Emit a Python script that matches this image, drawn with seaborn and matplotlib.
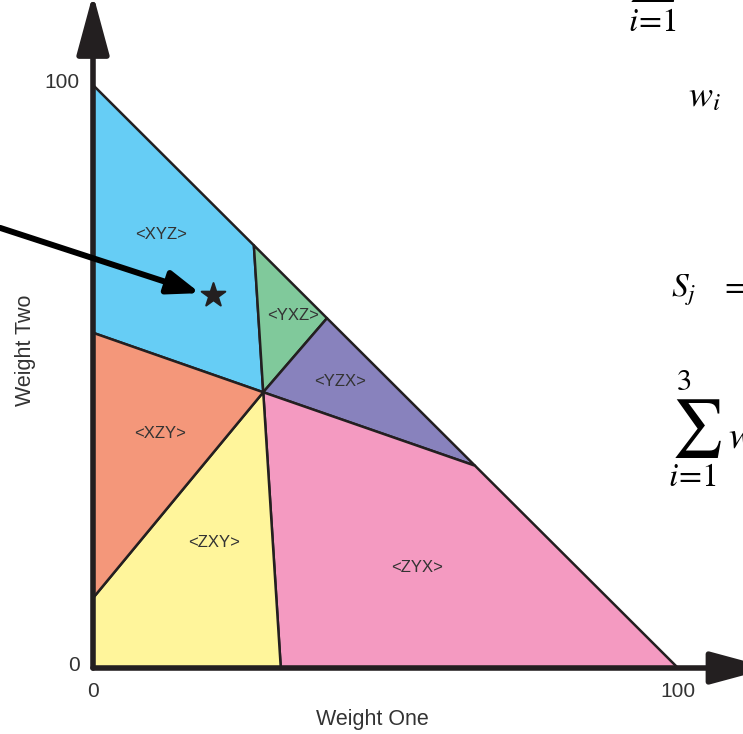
import seaborn as sns
import matplotlib.pyplot as plt
import pandas as pd

# pontos das fronteiras (peso um, peso dois)
center = (29.1, 47.3)
hyp_pts = [(27.5, 72.5), (40.0, 60.0), (65.3, 34.7)]
bottom_pt = (32.1, 0.0)
left_pts = [(0.0, 12.0), (0.0, 57.5)]
corners = {'top': (0.0, 100.0), 'right': (100.0, 0.0), 'origin': (0.0, 0.0)}

regions = ['<XYZ>', '<YXZ>', '<YZX>', '<ZYX>', '<ZXY>', '<XZY>']
colors = ['#66cdf5', '#80c99b', '#8882bd', '#f49ac1', '#fff59b', '#f4977a']
label_x = [11.6, 34.2, 42.2, 55.4, 20.7, 11.5]
label_y = [74.4, 60.5, 49.2, 17.2, 21.6, 40.3]

star = (20.5, 64.0)
pointer_start = (-15.9, 75.5)
pointer_end = (18.3, 64.3)

tick_vals = [0, 100]

H1, H2, H3 = hyp_pts
L1, L2 = left_pts
polys = [
    [corners['top'], H1, center, L2],
    [H1, H2, center],
    [H2, H3, center],
    [H3, corners['right'], bottom_pt, center],
    [bottom_pt, corners['origin'], L1, center],
    [L1, L2, center],
]

sns.set_theme(style='white')
plt.rcParams['font.family'] = ['Liberation Sans', 'DejaVu Sans']
plt.rcParams['mathtext.fontset'] = 'stix'
ink = '#231f20'
grey = '#333333'

fig = plt.figure(figsize=(7.43, 7.34), dpi=100)
ax = fig.add_axes([0, 0, 1, 1])
# escala: 5.85 px por unidade em x, 5.83 em y, origem em (93, 668) px
ax.set_xlim(-93 / 5.85, (743 - 93) / 5.85)
ax.set_ylim(-(734 - 668) / 5.83, 668 / 5.83)
ax.axis('off')

for pts, c in zip(polys, colors):
    xs, ys = zip(*pts)
    ax.fill(xs, ys, facecolor=c, edgecolor=ink, linewidth=1.8, joinstyle='round', zorder=2)

lab = pd.DataFrame({'region': regions, 'x': label_x, 'y': label_y})
for _, r in lab.iterrows():
    ax.text(r.x, r.y, r.region, ha='center', va='center', fontsize=12, color=grey, zorder=4)

# eixos com setas
head = '-|>,head_length=3.7,head_width=1.0'
ax.annotate('', xy=(0, 115.6), xytext=(0, 0), annotation_clip=False,
            arrowprops=dict(arrowstyle=head, mutation_scale=10, lw=4, color=ink,
                            shrinkA=0, shrinkB=0), zorder=5)
ax.annotate('', xy=(115.8, 0), xytext=(0, 0), annotation_clip=False,
            arrowprops=dict(arrowstyle=head, mutation_scale=10, lw=4, color=ink,
                            shrinkA=0, shrinkB=0), zorder=5)

# seta apontando para a estrela
ax.annotate('', xy=pointer_end, xytext=pointer_start, annotation_clip=False,
            arrowprops=dict(arrowstyle='-|>,head_length=1.9,head_width=0.7', mutation_scale=10,
                            lw=4.3, color='black', shrinkA=0, shrinkB=0), zorder=5)
sns.scatterplot(x=[star[0]], y=[star[1]], marker='*', s=320, color=ink, edgecolor=ink, ax=ax, zorder=6)

for v in tick_vals:
    ax.text(v, -4.1, str(v), ha='center', va='center', fontsize=15, color=grey)
    ax.text(-2.3, v + 0.4, str(v), ha='right', va='center', fontsize=15, color=grey)
ax.text(47.7, -8.9, 'Weight One', ha='center', va='center', fontsize=15.5, color=grey)
ax.text(-11.5, 54.5, 'Weight Two', ha='center', va='center', rotation=90, fontsize=15.5, color=grey)

# fórmulas cortadas na borda direita
ax.text(95.7, 113.9, r'$\sum$', ha='center', va='bottom', fontsize=41, color='black')
ax.text(95.7, 110.8, r'$i\!=\!1$', ha='center', va='center', fontsize=24, color='black')
ax.text(101.7, 98.0, r'$w_i$', ha='left', va='center', fontsize=26, color='black')
ax.text(110.3, 98.3, r'$=$', ha='left', va='center', fontsize=24, color='black')
ax.text(98.8, 64.8, r'$S_j$', ha='left', va='center', fontsize=24, color='black')
ax.text(107.2, 65.5, r'$=$', ha='left', va='center', fontsize=24, color='black')
ax.text(101.0, 49.0, r'$3$', ha='center', va='center', fontsize=22, color='black')
ax.text(103.2, 41.0, r'$\sum$', ha='center', va='center', fontsize=41, color='black')
ax.text(102.5, 32.6, r'$i\!=\!1$', ha='center', va='center', fontsize=24, color='black')
ax.text(108.6, 39.5, r'$w$', ha='left', va='center', fontsize=28, color='black')

fig.savefig('out.png', dpi=100)
